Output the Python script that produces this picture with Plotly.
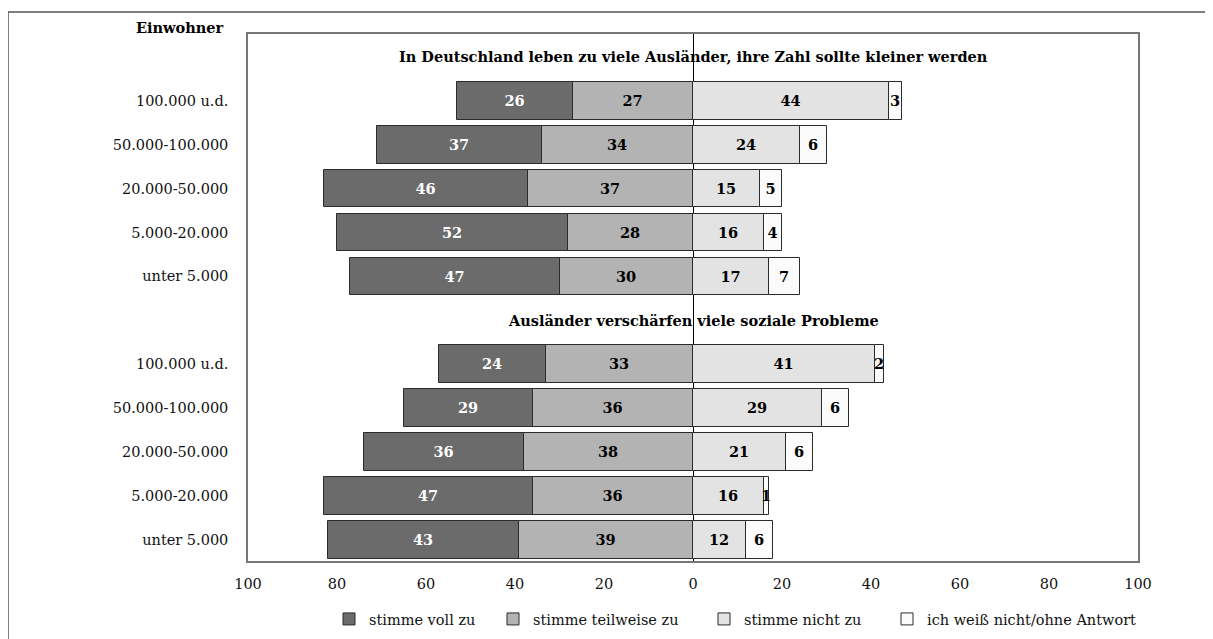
import plotly.graph_objects as go

categories = ["100.000 u.d.", "50.000-100.000", "20.000-50.000", "5.000-20.000", "unter 5.000"]
group_titles = ["In Deutschland leben zu viele Ausländer, ihre Zahl sollte kleiner werden",
                "Ausländer verschärfen viele soziale Probleme"]

# group 1
g1_voll = [26, 37, 46, 52, 47]
g1_teil = [27, 34, 37, 28, 30]
g1_nicht = [44, 24, 15, 16, 17]
g1_weiss = [3, 6, 5, 4, 7]
# group 2
g2_voll = [24, 29, 36, 47, 43]
g2_teil = [33, 36, 38, 36, 39]
g2_nicht = [41, 29, 21, 16, 12]
g2_weiss = [2, 6, 6, 1, 6]

series_names = ["stimme voll zu", "stimme teilweise zu", "stimme nicht zu", "ich weiß nicht/ohne Antwort"]
tick_vals = [-100, -80, -60, -40, -20, 0, 20, 40, 60, 80, 100]
tick_text = ["100", "80", "60", "40", "20", "0", "20", "40", "60", "80", "100"]

# slot positions: 0 = title1, 1..5 group1, 6 = title2, 7..11 group2
y1 = [1, 2, 3, 4, 5]
y2 = [7, 8, 9, 10, 11]
ys = y1 + y2
voll = g1_voll + g2_voll
teil = g1_teil + g2_teil
nicht = g1_nicht + g2_nicht
weiss = g1_weiss + g2_weiss

colors = ["#6b6b6b", "#b3b3b3", "#e3e3e3", "#fbfbfb"]
font_family = "DejaVu Serif"
fs = 14.5
line = dict(color="#2b2b2b", width=1)
bw = 0.86

# plot-area geometry (page has 8px body margin); plot area in window: x 248..1138, y 34..561
W, H = 1205, 631
L, T = 240, 26
R = 8 + W - 1138
B = 8 + H - 561
pw = W - L - R  # 890
ph = H - T - B  # 527


def px_to_paper_x(px):
    return (px - 8 - L) / pw


def py_to_paper_y(py):
    return (8 + H - B - py) / ph


def py_to_container_y(py):
    return 1 - (py - 8) / H


fig = go.Figure()


def add(vals, sign, idx, txtcolor, rank, legend_name):
    fig.add_trace(go.Bar(
        y=ys, x=[sign * v for v in vals], orientation="h", name=series_names[idx],
        marker=dict(color=colors[idx], line=line), width=bw,
        text=vals, textposition="inside", insidetextanchor="middle", textangle=0,
        textfont=dict(family=font_family, size=fs, color=txtcolor, weight="bold"),
        legendrank=rank, legend=legend_name, hoverinfo="skip", showlegend=True))


# negative side: teilweise first (closest to zero), then voll
add(teil, -1, 1, "black", 2, "legend2")
add(voll, -1, 0, "white", 1, "legend")
add(nicht, 1, 2, "black", 3, "legend3")
add(weiss, 1, 3, "black", 4, "legend4")

annotations = [
    dict(x=0, y=0, xref="x", yref="y", text="<b>%s</b>" % group_titles[0], showarrow=False,
         font=dict(family=font_family, size=fs, color="black")),
    dict(x=0, y=6, xref="x", yref="y", text="<b>%s</b>" % group_titles[1], showarrow=False,
         font=dict(family=font_family, size=fs, color="black")),
    dict(x=px_to_paper_x(180), y=py_to_paper_y(28), xref="paper", yref="paper",
         text="<b>Einwohner</b>", showarrow=False,
         xanchor="center", yanchor="middle", font=dict(family=font_family, size=fs, color="black")),
]

shapes = [
    dict(type="rect", xref="paper", yref="paper", x0=px_to_paper_x(8), y0=py_to_paper_y(660),
         x1=px_to_paper_x(1240), y1=py_to_paper_y(12),
         line=dict(color="#555555", width=1.5), fillcolor="rgba(0,0,0,0)", layer="below"),
]

legend_text_starts = [369, 533, 744, 927]
leg_font = dict(family=font_family, size=fs, color="#111111")
legends = {}
for i, key in enumerate(["legend", "legend2", "legend3", "legend4"]):
    legends[key] = dict(orientation="h", x=px_to_paper_x(legend_text_starts[i] - 40), xanchor="left",
                        yref="container", y=py_to_container_y(619), yanchor="middle",
                        font=leg_font, itemwidth=30, bgcolor="rgba(0,0,0,0)")

fig.update_layout(
    barmode="relative",
    width=W, height=H,
    margin=dict(l=L, r=R, t=T, b=B, autoexpand=False),
    paper_bgcolor="white", plot_bgcolor="white",
    font=dict(family=font_family, size=fs, color="#111111"),
    bargap=0,
    showlegend=True,
    uniformtext=dict(minsize=fs - 1, mode="show"),
    annotations=annotations,
    shapes=shapes,
    xaxis=dict(range=[-100, 100], tickvals=tick_vals, ticktext=tick_text, showgrid=False,
               zeroline=True, zerolinecolor="black", zerolinewidth=1,
               showline=True, mirror=True, linecolor="#777777", linewidth=1.5,
               ticks="", ticklabelstandoff=9, tickfont=dict(family=font_family, size=fs)),
    yaxis=dict(range=[11.48, -0.52], tickvals=ys, ticktext=categories + categories, showgrid=False,
               zeroline=False, showline=True, mirror=True, linecolor="#777777", linewidth=1.5,
               ticks="", ticklabelstandoff=15, tickfont=dict(family=font_family, size=fs)),
    **legends,
)

fig.write_html("out.html")
